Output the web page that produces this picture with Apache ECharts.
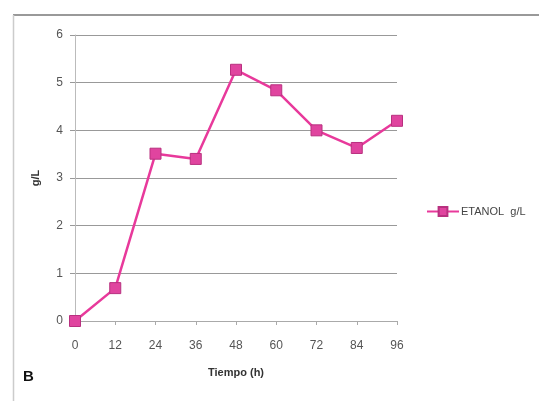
<!DOCTYPE html>
<html>
<head>
<meta charset="utf-8">
<script src="https://cdn.jsdelivr.net/npm/echarts@6/dist/echarts.min.js"></script>
<style>
  html, body { margin: 0; padding: 0; background: #fff; }
  #chart { width: 539px; height: 401px; }
</style>
</head>
<body>
<div id="chart"></div>
<script>
// Ethanol concentration over fermentation time
const horas = [0, 12, 24, 36, 48, 60, 72, 84, 96];
const etanol = [0, 0.69, 3.51, 3.40, 5.27, 4.84, 4.00, 3.63, 4.20];
const yTicks = [0, 1, 2, 3, 4, 5, 6];
const serieNombre = 'ETANOL  g/L';

const FONT = '"Liberation Sans", Arial, sans-serif';
const chart = echarts.init(document.getElementById('chart'));

chart.setOption({
  animation: false,
  backgroundColor: '#fff',
  grid: { left: 75, right: 142, top: 35, bottom: 80 },
  xAxis: {
    type: 'value',
    min: 0, max: 96, interval: 12,
    name: 'Tiempo (h)',
    nameLocation: 'middle',
    nameGap: 46,
    nameTextStyle: { fontFamily: FONT, fontSize: 11, fontWeight: 'bold', color: '#333' },
    axisLine: { lineStyle: { color: '#aaa', width: 1 } },
    axisTick: { show: true, length: 4, lineStyle: { color: '#aaa' } },
    axisLabel: { fontFamily: FONT, fontSize: 12, color: '#555', margin: 19 },
    splitLine: { show: false }
  },
  yAxis: {
    type: 'value',
    min: yTicks[0], max: yTicks[yTicks.length - 1], interval: 1,
    name: 'g/L',
    nameLocation: 'middle',
    nameGap: 34,
    nameRotate: 90,
    nameTextStyle: { fontFamily: FONT, fontSize: 11, fontWeight: 'bold', color: '#333' },
    axisLine: { show: true, lineStyle: { color: '#bbb', width: 1 } },
    axisTick: { show: true, length: 5, lineStyle: { color: '#999' } },
    axisLabel: { fontFamily: FONT, fontSize: 12, color: '#555', margin: 12 },
    splitLine: { show: true, lineStyle: { color: '#999', width: 1 } }
  },
  legend: {
    left: 421, top: 201,
    orient: 'vertical',
    itemWidth: 32, itemHeight: 11, itemGap: 4,
    textStyle: { fontFamily: FONT, fontSize: 11, color: '#444', padding: [0, 0, 0, -3] },
    data: [{ name: serieNombre }]
  },
  graphic: [
    { type: 'line', shape: { x1: 13, y1: 15, x2: 539, y2: 15 }, style: { stroke: '#999', lineWidth: 2 } },
    { type: 'line', shape: { x1: 13.5, y1: 15, x2: 13.5, y2: 401 }, style: { stroke: '#ccc', lineWidth: 1.5 } },
    { type: 'text', left: 23, top: 369, style: { text: 'B', fontFamily: FONT, fontSize: 15, fontWeight: 'bold', fill: '#111' } }
  ],
  series: [{
    name: serieNombre,
    type: 'line',
    data: horas.map((h, i) => [h, etanol[i]]),
    symbol: 'rect',
    symbolSize: 11,
    lineStyle: { color: '#e8399b', width: 2.5 },
    itemStyle: { color: '#e0449f', borderColor: '#b8307f', borderWidth: 1 },
    clip: false
  }]
});
</script>
</body>
</html>
